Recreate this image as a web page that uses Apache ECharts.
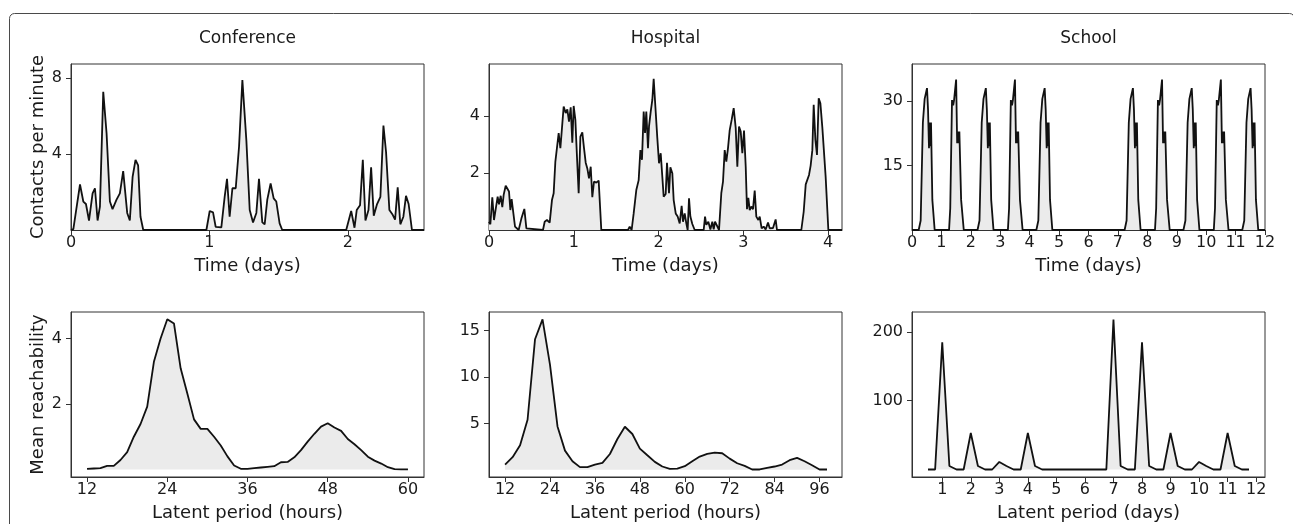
<!DOCTYPE html>
<html>
<head>
<meta charset="utf-8">
<script src="https://cdn.jsdelivr.net/npm/echarts/dist/echarts.min.js"></script>
<style>
html,body{margin:0;padding:0;background:#ffffff;}
#chart{width:1293px;height:524px;}
</style>
</head>
<body>
<div id="chart"></div>
<script>
// ---------- DATA ----------
const panelTitles = ['Conference', 'Hospital', 'School'];

// Conference: contacts per minute vs time (days)
const confTime = [0,0.017,0.065,0.089,0.108,0.130,0.156,0.173,0.192,0.209,0.233,0.257,0.281,0.300,0.329,0.353,0.377,0.406,0.425,0.445,0.466,0.485,0.502,0.522,
  0.978,1.002,1.026,1.045,1.086,1.110,1.127,1.146,1.166,1.190,1.214,1.238,1.267,1.291,1.315,1.339,1.358,1.382,1.399,1.418,1.442,1.464,1.483,1.507,1.526,
  1.988,2.024,2.048,2.064,2.088,2.108,2.127,2.149,2.168,2.187,2.211,2.235,2.257,2.276,2.300,2.324,2.341,2.360,2.379,2.401,2.420,2.439,2.463,2.550];
const confContacts = [0,0.05,2.4,1.5,1.37,0.5,1.93,2.2,0.5,1.23,7.28,5.1,1.5,1.1,1.6,1.93,3.1,0.9,0.5,2.8,3.7,3.4,0.7,0,
  0,1.0,0.93,0.17,0.14,1.75,2.7,0.7,2.2,2.2,4.4,7.9,4.7,1.05,0.4,0.9,2.7,0.4,0.3,1.6,2.45,1.67,1.5,0.35,0,
  0,1.0,0.12,1.05,1.3,3.7,0.5,1.05,3.3,0.75,1.37,1.75,5.5,4.1,1.05,0.8,0.55,2.25,0.3,0.7,1.8,1.37,0,0];

// Hospital: contacts per minute vs time (days)
const hospTime = [0,0.016,0.039,0.059,0.079,0.102,0.118,0.138,0.157,0.173,0.197,0.216,0.236,0.252,0.267,0.287,0.307,0.330,0.350,0.382,0.417,0.441,0.460,
  0.637,0.657,0.684,0.716,0.743,0.763,0.783,0.802,0.822,0.842,0.861,0.881,0.905,0.924,0.944,0.964,0.983,0.999,1.019,1.038,1.058,1.078,1.101,1.121,1.141,1.160,1.180,1.200,1.219,1.239,1.266,1.294,1.325,
  1.640,1.660,1.683,1.707,1.738,1.766,1.786,1.805,1.825,1.841,1.856,1.876,1.888,1.908,1.927,1.943,1.963,1.986,2.006,2.026,2.045,2.061,2.085,2.100,2.124,2.140,2.163,2.179,2.203,2.226,2.250,2.273,2.289,2.309,2.328,2.344,2.360,2.376,2.399,2.427,
  2.533,2.549,2.564,2.588,2.612,2.635,2.651,2.667,2.690,2.714,2.741,2.761,2.781,2.800,2.820,2.840,2.863,2.887,2.911,2.930,2.950,2.970,2.989,3.009,3.029,3.044,3.060,3.076,3.095,3.115,3.135,3.154,3.178,3.194,3.217,3.241,3.264,3.292,3.312,3.331,3.351,3.382,3.398,
  3.646,3.658,3.685,3.713,3.737,3.756,3.776,3.795,3.815,3.831,3.851,3.870,3.890,3.910,3.933,3.953,3.972,4.004,4.165];
const hospContacts = [0.29,0.2,1.15,0.35,0.4,1.17,0.9,1.2,0.8,1.23,1.55,1.55,1.35,0.7,1.08,1.1,0.12,0.06,0,0.4,0.74,0.06,0,
  0,0.29,0.35,0.26,1.05,1.29,2.4,2.42,3.4,2.87,3.57,4.33,4.1,4.23,3.8,4.3,3.06,4.35,3.86,2.57,1.29,3.27,3.42,2.87,2.36,2.16,1.81,2.22,1.15,1.7,1.66,1.73,0,
  0,0.12,0,0.58,1.4,1.75,2.8,2.46,4.15,3.4,4.15,2.87,3.63,4.15,4.56,5.3,4.33,3.22,2.34,2.69,2.75,1.17,1.26,2.36,1.29,2.2,1.99,1.05,0.58,0.47,0.23,0.85,0.29,0.58,0.23,0,1.11,0.47,0.21,0,
  0,0.47,0.18,0.29,0.02,0.29,0.02,0.29,0.29,0,1.29,1.7,2.8,2.4,2.87,3.5,3.86,4.27,3.57,2.22,3.63,3.45,2.69,3.49,2.22,0.73,1.13,0.7,0.82,0.73,1.38,0.47,0.35,0.47,0.06,0.12,0.02,0.26,0.06,0.12,0.07,0.37,0,
  0,0.05,0,0.64,1.6,1.6,1.93,2.26,2.8,4.39,3.16,2.63,4.62,4.44,3.6,3.57,1.87,0,0];

// School: contacts per minute vs time (days)
const schoolTime = [0,
  0.227,0.295,0.37,0.43,0.51,0.545,0.578,0.60,0.624,0.646,0.692,0.771,
  1.26,1.30,1.36,1.40,1.43,1.50,1.535,1.565,1.59,1.61,1.67,1.76,
  2.227,2.295,2.37,2.43,2.51,2.545,2.578,2.60,2.624,2.646,2.692,2.771,
  3.26,3.30,3.36,3.40,3.43,3.50,3.535,3.565,3.59,3.61,3.67,3.76,
  4.227,4.295,4.37,4.43,4.51,4.545,4.578,4.60,4.624,4.646,4.692,4.771,
  7.227,7.295,7.37,7.43,7.51,7.545,7.578,7.60,7.624,7.646,7.692,7.771,
  8.26,8.30,8.36,8.40,8.43,8.50,8.535,8.565,8.59,8.61,8.67,8.76,
  9.227,9.295,9.37,9.43,9.51,9.545,9.578,9.60,9.624,9.646,9.692,9.771,
  10.26,10.30,10.36,10.40,10.43,10.50,10.535,10.565,10.59,10.61,10.67,10.76,
  11.227,11.295,11.37,11.43,11.51,11.545,11.578,11.60,11.624,11.646,11.692,11.771,
  12];
const schoolContacts = [0,
  0,2.2,25,30.5,33,28,19,25,19.5,25,7,0,
  0,5,30.2,29,30.2,35,20.2,22.9,20.2,22.9,7,0,
  0,2.2,25,30.5,33,28,19,25,19.5,25,7,0,
  0,5,30.2,29,30.2,35,20.2,22.9,20.2,22.9,7,0,
  0,2.2,25,30.5,33,28,19,25,19.5,25,7,0,
  0,2.2,25,30.5,33,28,19,25,19.5,25,7,0,
  0,5,30.2,29,30.2,35,20.2,22.9,20.2,22.9,7,0,
  0,2.2,25,30.5,33,28,19,25,19.5,25,7,0,
  0,5,30.2,29,30.2,35,20.2,22.9,20.2,22.9,7,0,
  0,2.2,25,30.5,33,28,19,25,19.5,25,7,0,
  0];

// Mean reachability vs latent period
const confLatentHours = [12,13,14,15,16,17,18,19,20,21,22,23,24,25,26,27,28,29,30,31,32,33,34,35,36,37,38,39,40,41,42,43,44,45,46,47,48,49,50,51,52,53,54,55,56,57,58,59,60];
const confReach = [0.02,0.03,0.04,0.11,0.11,0.29,0.53,1.0,1.39,1.92,3.29,4.0,4.59,4.46,3.09,2.32,1.53,1.24,1.24,1.0,0.73,0.4,0.12,0.02,0.02,0.04,0.06,0.08,0.10,0.22,0.23,0.37,0.59,0.85,1.09,1.31,1.41,1.28,1.18,0.93,0.77,0.59,0.39,0.27,0.18,0.07,0.01,0,0];

const hospLatentHours = [12,14,16,18,20,22,24,26,28,30,32,34,36,38,40,42,44,46,48,50,52,54,56,58,60,62,64,66,68,70,72,74,76,78,80,82,84,86,88,90,92,94,96,98];
const hospReach = [0.57,1.36,2.64,5.4,14.07,16.2,11.3,4.68,2.07,0.93,0.29,0.29,0.57,0.75,1.71,3.32,4.64,3.86,2.29,1.57,0.86,0.36,0.11,0.14,0.39,0.93,1.43,1.71,1.86,1.79,1.21,0.71,0.43,0.04,0.04,0.21,0.36,0.57,1.04,1.29,0.93,0.5,0.04,0.04];

const schoolLatentDays = [0.5,0.75,1,1.25,1.5,1.75,2,2.25,2.5,2.75,3,3.25,3.5,3.75,4,4.25,4.5,4.75,5,5.25,5.5,5.75,6,6.25,6.5,6.75,7,7.25,7.5,7.75,8,8.25,8.5,8.75,9,9.25,9.5,9.75,10,10.25,10.5,10.75,11,11.25,11.5,11.75];
const schoolReach = [0,0,185,5,0,0,53,5,0,0,11,5,0,0,53,5,0,0,0,0,0,0,0,0,0,0,218,5,0,0,185,5,0,0,53,5,0,0,11,5,0,0,53,5,0,0];

// Tick labels
const xTicksConf = [0,1,2];
const xTicksHosp = [0,1,2,3,4];
const xTicksSchool = [0,1,2,3,4,5,6,7,8,9,10,11,12];
const yTicksConf = [4,8];
const yTicksHosp = [2,4];
const yTicksSchool = [15,30];
const xTicksConfLat = [12,24,36,48,60];
const xTicksHospLat = [12,24,36,48,60,72,84,96];
const xTicksSchoolLat = [1,2,3,4,5,6,7,8,9,10,11,12];
const yTicksConfReach = [2,4];
const yTicksHospReach = [5,10,15];
const yTicksSchoolReach = [100,200];

// ---------- CHART ----------
const FONT = 'DejaVu Sans';
const TXT = '#1a1a1a';
const zip = (a, b) => a.map((v, i) => [v, b[i]]);

const panels = [
  {grid:{left:71, top:64, width:353, height:166}, x:[0,2.55], y:[0,8.75], xt:xTicksConf, yt:yTicksConf, xn:'Time (days)', yn:'Contacts per minute', data:zip(confTime, confContacts)},
  {grid:{left:489, top:64, width:353, height:166}, x:[0,4.165], y:[0,5.82], xt:xTicksHosp, yt:yTicksHosp, xn:'Time (days)', yn:'', data:zip(hospTime, hospContacts)},
  {grid:{left:912, top:64, width:353, height:166}, x:[0,12], y:[0,38.6], xt:xTicksSchool, yt:yTicksSchool, xn:'Time (days)', yn:'', data:zip(schoolTime, schoolContacts)},
  {grid:{left:71, top:312, width:353, height:165}, x:[9.6,62.4], y:[-0.23,4.81], xt:xTicksConfLat, yt:yTicksConfReach, xn:'Latent period (hours)', yn:'Mean reachability', data:zip(confLatentHours, confReach)},
  {grid:{left:489, top:312, width:353, height:165}, x:[7.7,102.0], y:[-0.77,17.0], xt:xTicksHospLat, yt:yTicksHospReach, xn:'Latent period (hours)', yn:'', data:zip(hospLatentHours, hospReach)},
  {grid:{left:912, top:312, width:353, height:165}, x:[-0.06,12.31], y:[-10.9,228.9], xt:xTicksSchoolLat, yt:yTicksSchoolReach, xn:'Latent period (days)', yn:'', data:zip(schoolLatentDays, schoolReach)}
];

const axisCommon = {
  type: 'value',
  splitLine: {show: false},
  axisLine: {show: true, onZero: false, lineStyle: {color: '#333', width: 1}},
  nameLocation: 'middle',
  nameTextStyle: {fontFamily: FONT, fontSize: 18, color: TXT}
};

const option = {
  animation: false,
  backgroundColor: '#ffffff',
  textStyle: {fontFamily: FONT},
  title: panelTitles.map((t, i) => ({
    text: t,
    left: panels[i].grid.left + panels[i].grid.width / 2,
    top: 30,
    padding: 0,
    textAlign: 'center',
    textStyle: {fontFamily: FONT, fontSize: 17, fontWeight: 'normal', color: TXT}
  })),
  graphic: [{
    type: 'rect', silent: true, z: -10,
    shape: {x: 9.5, y: 13.5, width: 1285, height: 620, r: 5},
    style: {fill: 'none', stroke: '#4a4a4a', lineWidth: 1}
  }],
  grid: panels.map(p => Object.assign({show: true, borderColor: '#333', borderWidth: 1, backgroundColor: 'transparent', containLabel: false}, p.grid)),
  xAxis: panels.map((p, i) => Object.assign({}, axisCommon, {
    gridIndex: i, min: p.x[0], max: p.x[1],
    name: p.xn, nameGap: 27,
    axisTick: {show: true, length: 5, customValues: p.xt, lineStyle: {color: '#333'}},
    axisLabel: {customValues: p.xt, fontFamily: FONT, fontSize: 16, color: TXT, margin: 5, showMinLabel: true, showMaxLabel: true}
  })),
  yAxis: panels.map((p, i) => Object.assign({}, axisCommon, {
    gridIndex: i, min: p.y[0], max: p.y[1],
    name: p.yn, nameGap: 24, nameRotate: 90,
    axisTick: {show: true, length: 5, customValues: p.yt, lineStyle: {color: '#333'}},
    axisLabel: {customValues: p.yt, fontFamily: FONT, fontSize: 16, color: TXT, margin: 9, showMinLabel: true, showMaxLabel: true}
  })),
  series: panels.map((p, i) => ({
    type: 'line',
    xAxisIndex: i, yAxisIndex: i,
    data: p.data,
    showSymbol: false, symbol: 'none',
    silent: true, clip: true,
    lineStyle: {color: '#111111', width: 1.8},
    areaStyle: {color: '#ebebeb', opacity: 1}
  }))
};

const chart = echarts.init(document.getElementById('chart'), null, {renderer: 'canvas'});
chart.setOption(option);
</script>
</body>
</html>
